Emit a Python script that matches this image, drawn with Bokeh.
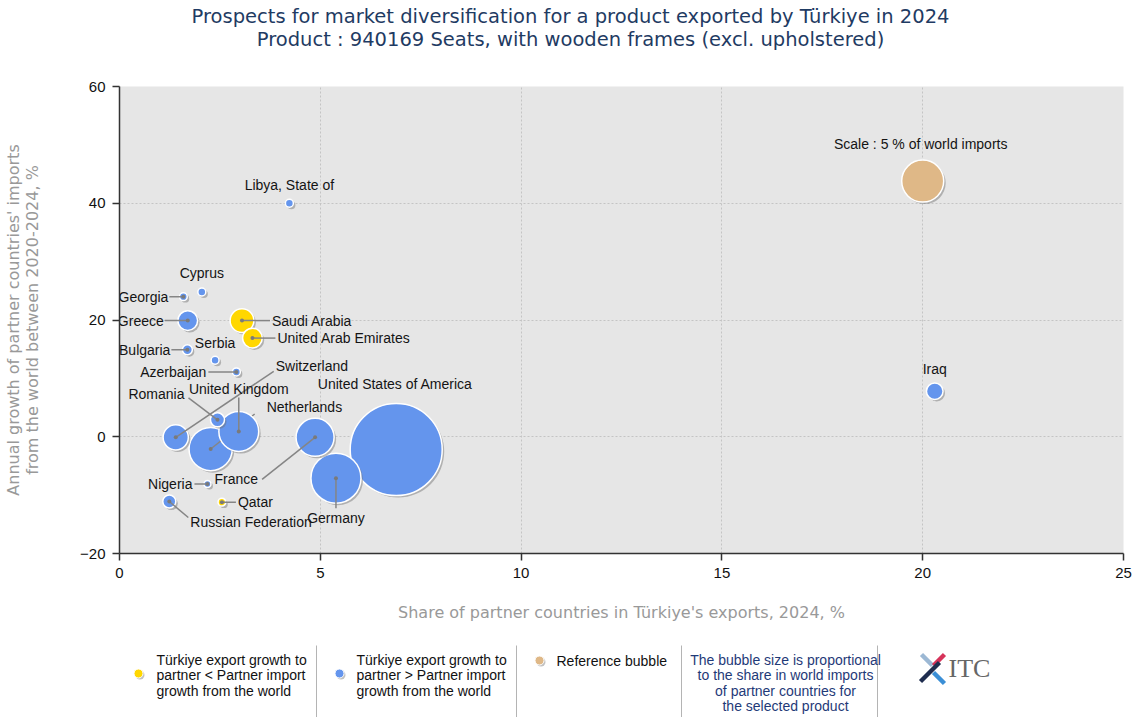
from bokeh.plotting import figure
from bokeh.models import Range1d, FixedTicker, ColumnDataSource
from bokeh.layouts import column
from bokeh.embed import file_html
from bokeh.resources import INLINE
from bokeh.core.properties import value
import math

# ---------------- data ----------------
countries = ["United States of America", "Germany", "Netherlands", "United Kingdom", "France",
             "Switzerland", "Saudi Arabia", "Greece", "United Arab Emirates", "Iraq",
             "Romania", "Russian Federation", "Bulgaria", "Cyprus", "Georgia",
             "Serbia", "Azerbaijan", "Libya, State of", "Qatar", "Nigeria"]
share_in_exports = [6.89, 5.39, 2.27, 2.97, 4.87, 1.40, 3.05, 1.70, 3.31, 20.30,
                    2.44, 1.24, 1.69, 2.05, 1.59, 2.38, 2.91, 4.23, 2.55, 2.19]
import_growth = [-2.2, -7.1, -2.1, 0.9, -0.1, -0.1, 19.9, 19.9, 16.9, 7.8,
                 2.9, -11.1, 14.9, 24.8, 24.0, 13.1, 11.1, 40.0, -11.2, -8.1]
world_import_share = [24.0, 7.1, 5.3, 4.5, 4.1, 1.8, 1.6, 1.1, 1.1, 0.78,
                      0.56, 0.48, 0.28, 0.18, 0.17, 0.18, 0.18, 0.18, 0.17, 0.14]
export_growth_below_import = [False, False, False, False, False, False, True, False, True, False,
                              False, False, False, False, False, False, False, False, True, False]
reference_share = 5.0
reference_point = (20.0, 43.8)

title_lines = ["Prospects for market diversification for a product exported by Türkiye in 2024",
               "Product : 940169 Seats, with wooden frames (excl. upholstered)"]
x_ticks = [0, 5, 10, 15, 20, 25]
y_ticks = [-20, 0, 20, 40, 60]

# ---------------- layout / style ----------------
FW, FH = 1004, 467
FRAME_LEFT_PAGE = 121          # page x of the plot frame's left edge
LEFT, RIGHT = 119, 13          # borders (the layout adds ~2px)
TITLE_H = 52
MAIN_TOP, MAIN_BOTTOM = 34, 85
LEG_H = 79
X0, X1, Y0, Y1 = 0, 25, -20, 60
KX = FW / (X1 - X0)
KY = FH / (Y1 - Y0)
REF_R = 21.0  # pixel radius of the 5% reference bubble

# label placement: name -> (dx, dy, align, line_dx, line_dy)  (pixels, y downwards)
label_layout = {
    "Libya, State of": (0, -18, "center", None, None),
    "Cyprus": (0, -19, "center", None, None),
    "Georgia": (-15, 0, "right", -14, 0),
    "Greece": (-24, 0, "right", -23, 0),
    "Saudi Arabia": (30, 0, "left", 28, 0),
    "United Arab Emirates": (25, 0, "left", 23, 0),
    "Bulgaria": (-17, 0, "right", -16, 0),
    "Serbia": (0, -17, "center", None, None),
    "Azerbaijan": (-30, 0, "right", -28, 0),
    "Switzerland": (100, -71, "left", 98, -66),
    "United Kingdom": (0, -42, "center", 0, -34),
    "Romania": (-33, -26, "right", -29, -22),
    "United States of America": (-1, -66, "center", None, None),
    "Netherlands": (56, -42, "left", 44, -35),
    "France": (-57, 42, "right", -53, 42),
    "Germany": (0, 40, "center", 0, 30),
    "Nigeria": (-15, 0, "right", -13, 0),
    "Qatar": (16, 0, "left", 14, 0),
    "Russian Federation": (21, 20, "left", 19, 16),
    "Iraq": (0, -22, "center", None, None),
}

BLUE = "#6495ED"
GOLD = "#FFD700"
TAN = "#DFB887"
LABEL_FONT = "Liberation Sans"
AXIS_FONT = "DejaVu Sans"


def strip(top_page, height):
    f = figure(frame_width=FW, frame_height=height,
               x_range=Range1d(FRAME_LEFT_PAGE, FRAME_LEFT_PAGE + FW),
               y_range=Range1d(top_page + height, top_page), output_backend="svg",
               toolbar_location=None, x_axis_location=None, y_axis_location=None,
               min_border_left=LEFT, min_border_right=RIGHT, min_border_top=0, min_border_bottom=0)
    f.grid.visible = False
    f.outline_line_color = None
    f.background_fill_color = "white"
    return f


# ---------------- title strip ----------------
tf = strip(0, TITLE_H)
tf.text(x=[572, 572], y=[16, 39], text=title_lines, text_align="center", text_baseline="middle",
        text_font=value(AXIS_FONT), text_font_size="19.5px", text_color="#1f3b63")

# ---------------- main chart ----------------
p = figure(frame_width=FW, frame_height=FH, x_range=Range1d(X0, X1), y_range=Range1d(Y0, Y1),
           output_backend="svg", toolbar_location=None,
           min_border_left=LEFT, min_border_right=RIGHT, min_border_top=MAIN_TOP,
           min_border_bottom=MAIN_BOTTOM)
p.background_fill_color = "#e6e6e6"
p.border_fill_color = "white"
p.outline_line_color = None

p.xaxis.ticker = FixedTicker(ticks=x_ticks)
p.yaxis.ticker = FixedTicker(ticks=y_ticks)
p.axis.minor_tick_line_color = None
p.axis.major_tick_in = 0
p.axis.major_tick_out = 7
p.axis.axis_line_color = "#333333"
p.axis.axis_line_width = 1.5
p.axis.major_tick_line_color = "#333333"
p.axis.major_tick_line_width = 1.5
p.axis.major_label_text_font = LABEL_FONT
p.axis.major_label_text_font_size = "15px"
p.axis.major_label_text_color = "#111111"
p.axis.major_label_standoff = 7
p.xaxis.axis_label = "Share of partner countries in Türkiye's exports, 2024, %"
p.yaxis.axis_label = "Annual growth of partner countries' imports\nfrom the world between 2020-2024, %"
p.axis.axis_label_text_font = AXIS_FONT
p.axis.axis_label_text_font_size = "16px"
p.axis.axis_label_text_font_style = "normal"
p.axis.axis_label_text_color = "#999999"
p.axis.axis_label_text_line_height = 1.0
p.xaxis.axis_label_standoff = 22
p.yaxis.axis_label_standoff = 35

p.grid.grid_line_color = "#c4c4c4"
p.grid.grid_line_dash = "2 2"
p.grid.grid_line_width = 1

SH = 2.0  # shadow offset px


def radius_px(share):
    return REF_R * math.sqrt(share / reference_share)


def draw_bubble(x, y, share, color):
    d = 2 * radius_px(share)
    p.scatter([x + SH / KX], [y - SH / KY], size=d, fill_color="#6f6f6f", fill_alpha=0.45,
              line_color=None)
    p.scatter([x], [y], size=d, fill_color=color, line_color="white", line_width=1.5)


order = sorted(range(len(countries)), key=lambda i: -world_import_share[i])
for i in order:
    name = countries[i]
    x, y = share_in_exports[i], import_growth[i]
    col = GOLD if export_growth_below_import[i] else BLUE
    draw_bubble(x, y, world_import_share[i], col)
    dx, dy, al, ldx, ldy = label_layout[name]
    if ldx is not None:
        p.segment(x0=[x], y0=[y], x1=[x + ldx / KX], y1=[y - ldy / KY],
                  line_color="#858585", line_width=1.5)
        p.scatter([x], [y], size=4, fill_color="#7a7a7a", line_color=None)

# reference bubble
draw_bubble(reference_point[0], reference_point[1], reference_share, TAN)

# labels
for al in ("left", "center", "right"):
    xs, ys, ts, ox, oy = [], [], [], [], []
    for i, name in enumerate(countries):
        dx, dy, a, _, _ = label_layout[name]
        if a != al:
            continue
        xs.append(share_in_exports[i]); ys.append(import_growth[i]); ts.append(name)
        ox.append(dx); oy.append(dy)
    if xs:
        src = ColumnDataSource(dict(x=xs, y=ys, t=ts, ox=ox, oy=oy))
        p.text(x="x", y="y", text="t", x_offset="ox", y_offset="oy", source=src,
               text_align=al, text_baseline="middle", text_font=value(LABEL_FONT),
               text_font_size="14px", text_color="#141414")

p.text(x=[reference_point[0]], y=[reference_point[1]], text=["Scale : 5 % of world imports"],
       x_offset=[-2], y_offset=[-37], text_align="center", text_baseline="middle",
       text_font=value(LABEL_FONT), text_font_size="14px", text_color="#141414")

# ---------------- legend strip ----------------
LY0 = TITLE_H + MAIN_TOP + FH + MAIN_BOTTOM  # page y of strip top
lg = strip(LY0, LEG_H)

seps = [318, 518, 683, 879]
lg.segment(x0=seps, y0=[645] * 4, x1=seps, y1=[LY0 + LEG_H] * 4, line_color="#b4b4b4", line_width=1)

for (cx, cy, c) in [(140, 673, GOLD), (341, 673, BLUE), (541, 660, TAN)]:
    lg.scatter([cx + 1.5], [cy + 1.5], size=9, fill_color="#777777", fill_alpha=0.45, line_color=None)
    lg.scatter([cx], [cy], size=9, fill_color=c, line_color="white", line_width=1)

legend_gold = ["Türkiye export growth to", "partner < Partner import", "growth from the world"]
legend_blue = ["Türkiye export growth to", "partner > Partner import", "growth from the world"]
legend_note = ["The bubble size is proportional", "to the share in world imports",
               "of partner countries for", "the selected product"]
ly = [659, 674, 690, 705]
lg.text(x=[158] * 3, y=ly[:3], text=legend_gold, text_align="left", text_baseline="middle",
        text_font=value(LABEL_FONT), text_font_size="14px", text_color="#111111")
lg.text(x=[358] * 3, y=ly[:3], text=legend_blue, text_align="left", text_baseline="middle",
        text_font=value(LABEL_FONT), text_font_size="14px", text_color="#111111")
lg.text(x=[558], y=[660], text=["Reference bubble"], text_align="left", text_baseline="middle",
        text_font=value(LABEL_FONT), text_font_size="14px", text_color="#111111")
lg.text(x=[787] * 4, y=ly, text=legend_note, text_align="center", text_baseline="middle",
        text_font=value(LABEL_FONT), text_font_size="14px", text_color="#1f3a78")

# ITC logo
lg.segment(x0=[923, 946, 922, 935], y0=[654, 654, 681, 672], x1=[934, 935, 941, 946],
           y1=[665, 665, 662, 683],
           line_color=["#9cb8d4", "#d6335a", "#1f2d4f", "#3b8fd6"], line_width=4.5)
lg.text(x=[950], y=[668], text=["ITC"], text_align="left", text_baseline="middle",
        text_font=value("Liberation Serif"), text_font_size="26px", text_color="#666666")

layout = column(tf, p, lg)
open("out.html", "w").write(file_html(layout, INLINE))
